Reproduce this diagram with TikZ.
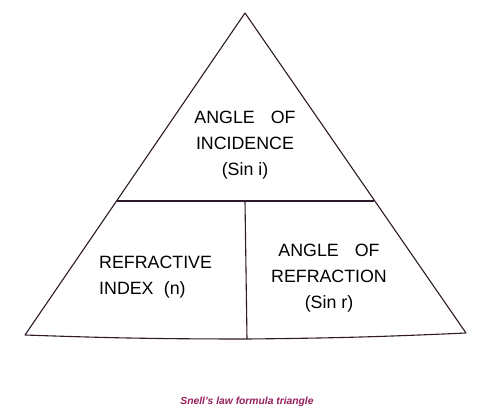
\documentclass[tikz,border=0pt]{standalone}
\usepackage{fontspec}
\setmainfont{Liberation Sans}
\definecolor{edge}{RGB}{45,25,40}
\definecolor{cap}{RGB}{150,30,90}
\begin{document}
\begin{tikzpicture}[x=1pt,y=-1pt,
  edgeline/.style={draw=edge,line width=1.1pt,line join=round},
  lbl/.style={font=\fontsize{17.8}{26}\selectfont,text=black,inner sep=0pt},
  captxt/.style={font=\fontsize{10.3}{12}\selectfont\bfseries\itshape,text=cap,inner sep=0pt}]
\useasboundingbox (0,0) rectangle (483,420);
\coordinate (apex) at (245,13);
\coordinate (bl) at (25,335);
\coordinate (br) at (466,333);
\coordinate (bm) at (247,339);
\coordinate (ml) at (117,201);
\coordinate (mr) at (374,201);
\coordinate (mm) at (245,201);
\draw[edgeline] (apex) -- (br) to[bend left=1] (bm) to[bend left=1] (bl) -- cycle;
\draw[edgeline] (ml) -- (mr);
\draw[edgeline] (mm) -- (bm);
\node[lbl,align=center] (top) at (245,145) {ANGLE\hspace{0.9em}OF\\INCIDENCE\\(Sin i)};
\node[lbl,align=left,anchor=west] (left) at (99,277) {REFRACTIVE\\INDEX\hspace{0.3em} (n)};
\node[lbl,align=center] (right) at (329,278) {ANGLE\hspace{0.9em}OF\\REFRACTION\\(Sin r)};
\node[captxt] (caption) at (247,402) {Snell's law formula triangle};
\end{tikzpicture}
\end{document}
